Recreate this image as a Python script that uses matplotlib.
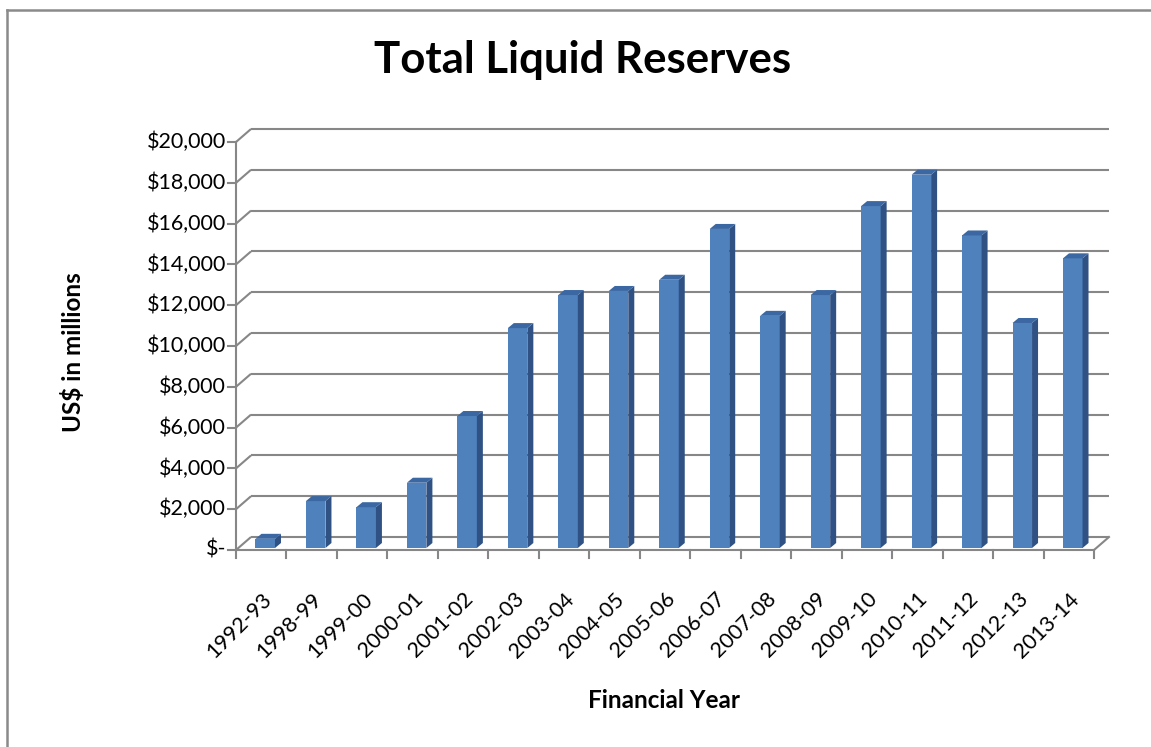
import matplotlib
matplotlib.use("Agg")
import matplotlib.pyplot as plt
from matplotlib.patches import Polygon

# ---- data ----
years = ["1992-93", "1998-99", "1999-00", "2000-01", "2001-02", "2002-03",
         "2003-04", "2004-05", "2005-06", "2006-07", "2007-08", "2008-09",
         "2009-10", "2010-11", "2011-12", "2012-13", "2013-14"]
reserves = [450, 2300, 2000, 3200, 6470, 10780, 12400, 12600, 13150, 15640,
            11380, 12400, 16760, 18300, 15320, 11030, 14200]
y_ticks = [0, 2000, 4000, 6000, 8000, 10000, 12000, 14000, 16000, 18000, 20000]
y_tick_labels = ["$-", "$2,000", "$4,000", "$6,000", "$8,000", "$10,000",
                 "$12,000", "$14,000", "$16,000", "$18,000", "$20,000"]

FONT = "Lato"
plt.rcParams['font.family'] = [FONT, 'DejaVu Sans']

W_PX, H_PX = 1151, 747
fig = plt.figure(figsize=(W_PX / 100, H_PX / 100), dpi=100)

# front plane of the plot (pixels)
L, R, B, T = 236, 1094, 550, 142
ax = fig.add_axes([L / W_PX, (H_PX - B) / H_PX, (R - L) / W_PX, (B - T) / H_PX])
n = len(years)
ymax = 20000
ax.set_xlim(0, n)
ax.set_ylim(0, ymax)
ax.axis("off")

PX = n / (R - L)
PY = ymax / (B - T)
BX, BY = 15 * PX, 13 * PY          # back wall offset
grid_c = "#878787"
lw = 1.5

# gridlines on the back wall + connectors on the left wall
for v in y_ticks:
    ax.plot([0, BX], [v, v + BY], color=grid_c, lw=lw, clip_on=False, zorder=1,
            solid_capstyle="butt")
    ax.plot([BX, n + BX], [v + BY, v + BY], color=grid_c, lw=lw, clip_on=False,
            zorder=1, solid_capstyle="butt")
    ax.plot([-8 * PX, 0], [v, v], color=grid_c, lw=lw, clip_on=False, zorder=1)

# front vertical axis
ax.plot([0, 0], [0, ymax], color=grid_c, lw=lw, clip_on=False, zorder=1)
# floor front edge and right edge
ax.plot([0, n], [0, 0], color=grid_c, lw=lw, clip_on=False, zorder=1)
ax.plot([n, n + BX], [0, BY], color=grid_c, lw=lw, clip_on=False, zorder=1)
for i in range(n + 1):
    ax.plot([i, i], [0, -8 * PY], color=grid_c, lw=lw, clip_on=False, zorder=1)

# bars (pseudo 3D)
FX, FY = 4 * PX, 2 * PY
DX, DY = 6 * PX, 5 * PY
bw = 19.5 * PX
front_c = "#4F81BD"
side_c = "#2F5184"
top_c = "#3B67A2"
lefts = [i + 0.5 - bw / 2 + FX for i in range(n)]
ax.bar(lefts, reserves, width=bw, bottom=FY, align="edge", color=front_c,
       edgecolor="none", zorder=3, clip_on=False)
for xl, v in zip(lefts, reserves):
    xr = xl + bw
    top = FY + v
    ax.add_patch(Polygon([(xr, FY), (xr + DX, FY + DY), (xr + DX, top + DY), (xr, top)],
                         closed=True, facecolor=side_c, edgecolor="none", zorder=3,
                         clip_on=False))
    ax.add_patch(Polygon([(xl, top), (xr, top), (xr + DX, top + DY), (xl + DX, top + DY)],
                         closed=True, facecolor=top_c, edgecolor="none", zorder=3,
                         clip_on=False))

# y tick labels
for v, lab in zip(y_ticks, y_tick_labels):
    ax.text(-10 * PX, v, lab, ha="right", va="center", fontsize=15.5, color="black")

# x tick labels
for i, lab in enumerate(years):
    ax.annotate(lab, xy=(i + 0.5, 0), xycoords=("data", "axes fraction"),
                xytext=(7, -46), textcoords="offset pixels", rotation=45,
                rotation_mode="anchor", ha="right", va="center", fontsize=15.5)

# titles
fig.text(583 / W_PX, 1 - 60 / H_PX, "Total Liquid Reserves", ha="center", va="center",
         fontsize=31.5, fontweight="bold")
fig.text(664 / W_PX, 1 - 700 / H_PX, "Financial Year", ha="center", va="center",
         fontsize=17.5, fontweight="bold")
fig.text(73 / W_PX, 1 - 352 / H_PX, "US$ in millions", ha="center", va="center",
         fontsize=17.5, fontweight="bold", rotation=90)

# outer border (top and left visible)
fig.add_artist(plt.Line2D([7 / W_PX, 1], [1 - 10 / H_PX] * 2, transform=fig.transFigure,
                          color="#8a8a8a", lw=1.8))
fig.add_artist(plt.Line2D([7 / W_PX] * 2, [0, 1 - 10 / H_PX], transform=fig.transFigure,
                          color="#8a8a8a", lw=1.8))

fig.savefig("out.png", dpi=100)
